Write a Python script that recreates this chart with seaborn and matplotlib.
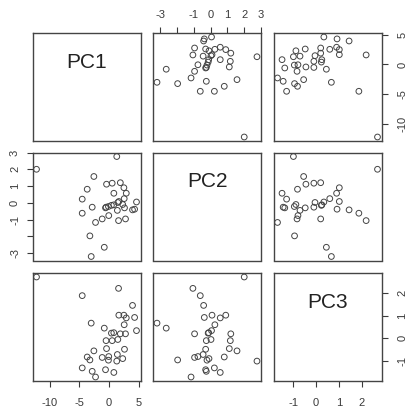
import numpy as np
import pandas as pd
import matplotlib
matplotlib.use("Agg")
import matplotlib.pyplot as plt
import seaborn as sns

# ---- data ----
pc1 = [-12.2, 1.3, -2.55, -0.42, 0.53, 1.9, 2.5, -3.67, 0.81, 2.9,
       -4.51, 2.55, 1.48, 4.62, -2.83, -0.5, 0.4, 2.6, 1.4, 3.95,
       4.3, -4.51, -0.05, -1.15, -2.27, 1.6, 2.77, -3.22, -0.8, -3.0,
       1.65, -0.1, -0.59, 0.8, 2.3]
pc2 = [2.0, 2.76, 1.57, 1.11, 1.17, 1.2, 0.9, 0.81, 0.57, 0.57,
       0.22, 0.25, 0.02, 0.05, -0.26, -0.26, -0.15, -0.3, -0.45, -0.42,
       -0.38, -0.62, -0.76, -0.96, -1.17, -1.06, -0.96, -1.97, -2.65, -3.2,
       0.08, -0.22, -0.3, -0.12, -0.1]
pc3 = [2.7, -1.0, -0.55, -0.45, -0.1, 0.2, 1.02, -0.82, -1.5, 0.9,
       -1.3, 0.6, -0.05, 0.34, -1.45, -0.1, 0.23, -0.48, -0.71, 1.45,
       0.92, 1.88, -0.8, -0.84, -1.7, 2.2, 0.2, -0.95, 0.45, 0.67,
       1.02, -0.96, -1.38, 0.25, -0.89]

var_names = ["PC1", "PC2", "PC3"]
tick_values = {"PC1": [-10, -5, 0, 5],
               "PC2": [-3, -2, -1, 0, 1, 2, 3],
               "PC3": [-1, 0, 1, 2]}
tick_labels = {"PC1": ["-10", "-5", "0", "5"],
               "PC2": ["-3", "", "-1", "0", "1", "2", "3"],
               "PC3": ["-1", "0", "1", "2"]}

df = pd.DataFrame({"PC1": pc1, "PC2": pc2, "PC3": pc3})

sns.set_style("white")
plt.rcParams["font.family"] = ["Liberation Sans", "DejaVu Sans"]

W, H = 411, 409
fig = plt.figure(figsize=(W / 100, H / 100), dpi=100)

col_left = [32.5, 153, 273.5]
row_top = [33, 152.5, 273]
size = 108

lims = {}
for v in var_names:
    lo, hi = df[v].min(), df[v].max()
    pad = (hi - lo) * 0.04
    lims[v] = (lo - pad, hi + pad)

axis_col = "#3a3a3a"
for i, vy in enumerate(var_names):
    for j, vx in enumerate(var_names):
        ax = fig.add_axes([col_left[j] / W, 1 - (row_top[i] + size) / H,
                           size / W, size / H])
        ax.set_facecolor("white")
        if i != j:
            sns.scatterplot(data=df, x=vx, y=vy, ax=ax, marker="o",
                            s=17, facecolors="none", edgecolor="#444444",
                            linewidth=0.7, legend=False)
        else:
            ax.text(0.5, 0.73, vx, transform=ax.transAxes, ha="center",
                    va="center", fontsize=15, color="#222222")
        ax.set_xlim(lims[vx])
        ax.set_ylim(lims[vy])
        ax.set_xlabel("")
        ax.set_ylabel("")
        for sp in ax.spines.values():
            sp.set_color("#444444")
            sp.set_linewidth(1.0)
        ax.tick_params(axis="both", which="both", bottom=False, top=False,
                       left=False, right=False, labelbottom=False,
                       labeltop=False, labelleft=False, labelright=False,
                       direction="out", length=4.5, width=0.8,
                       color=axis_col, labelcolor=axis_col, labelsize=8)
        ax.set_xticks(tick_values[vx])
        ax.set_xticklabels(tick_labels[vx])
        ax.set_yticks(tick_values[vy])
        ax.set_yticklabels(tick_labels[vy], rotation=90, va="center")
        if i == 0 and j % 2 == 1:
            ax.tick_params(axis="x", top=True, labeltop=True, pad=5)
        if i == 2 and j % 2 == 0:
            ax.tick_params(axis="x", bottom=True, labelbottom=True, pad=7.5)
        if j == 0 and i % 2 == 1:
            ax.tick_params(axis="y", left=True, labelleft=True, pad=4.5)
        if j == 2 and i % 2 == 0:
            ax.tick_params(axis="y", right=True, labelright=True, pad=7)

fig.savefig("out.png", dpi=100, facecolor="white")
